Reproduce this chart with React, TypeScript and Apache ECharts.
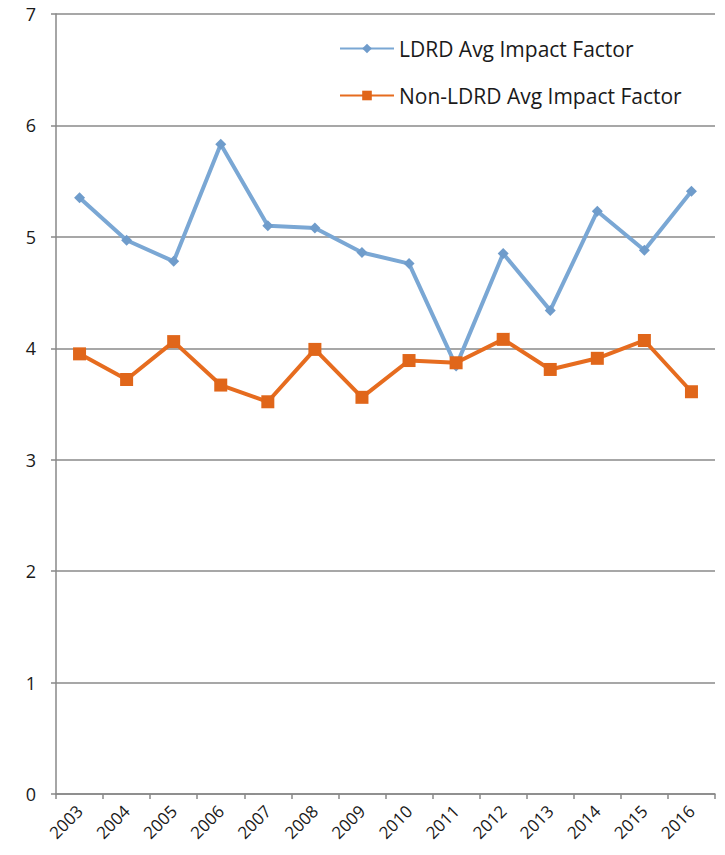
import React, { useEffect, useRef } from "react";
import * as echarts from "echarts";

const years = ["2003","2004","2005","2006","2007","2008","2009","2010","2011","2012","2013","2014","2015","2016"];
const ldrd = [5.35, 4.97, 4.78, 5.83, 5.10, 5.08, 4.86, 4.76, 3.84, 4.85, 4.34, 5.23, 4.88, 5.41];
const nonLdrd = [3.95, 3.72, 4.06, 3.67, 3.52, 3.99, 3.56, 3.89, 3.87, 4.08, 3.81, 3.91, 4.07, 3.61];
const yTicks = [0, 1, 2, 3, 4, 5, 6, 7];

const FONT = "Open Sans";

export default function App() {
  const ref = useRef<HTMLDivElement>(null);
  useEffect(() => {
    if (!ref.current) return;
    const chart = echarts.init(ref.current, undefined, { renderer: "svg" });
    chart.setOption({
      animation: false,
      backgroundColor: "#ffffff",
      textStyle: { fontFamily: FONT },
      grid: { left: 56, right: 10, top: 14, bottom: 61, containLabel: false },
      legend: {
        orient: "vertical",
        left: 334,
        top: 33,
        itemWidth: 54,
        itemHeight: 12,
        itemGap: 26,
        textStyle: { fontFamily: FONT, fontSize: 21, color: "#1a1a1a" },
        data: ["LDRD Avg Impact Factor", "Non-LDRD Avg Impact Factor"],
      },
      xAxis: {
        type: "category",
        data: years,
        boundaryGap: true,
        axisLine: { show: true, lineStyle: { color: "#888888", width: 1.5 } },
        axisTick: { show: true, alignWithLabel: false, length: 5, lineStyle: { color: "#888888", width: 1.5 } },
        axisLabel: { rotate: 45, fontFamily: FONT, fontSize: 17, color: "#1a1a1a", margin: 14, interval: 0 },
        splitLine: { show: false },
      },
      yAxis: {
        type: "value",
        min: yTicks[0],
        max: yTicks[yTicks.length - 1],
        interval: 1,
        axisLine: { show: true, lineStyle: { color: "#888888", width: 1.5 } },
        axisTick: { show: true, inside: false, length: 5, lineStyle: { color: "#888888", width: 1.5 } },
        axisLabel: { fontFamily: FONT, fontSize: 18, color: "#1a1a1a", margin: 20 },
        splitLine: { show: true, lineStyle: { color: "#8a8a8a", width: 1.5 } },
      },
      series: [
        {
          name: "LDRD Avg Impact Factor",
          type: "line",
          data: ldrd,
          symbol: "diamond",
          symbolSize: 11,
          lineStyle: { color: "#7aa7d4", width: 4 },
          itemStyle: { color: "#6f9ccb" },
          z: 3,
        },
        {
          name: "Non-LDRD Avg Impact Factor",
          type: "line",
          data: nonLdrd,
          symbol: "rect",
          symbolSize: 13,
          lineStyle: { color: "#e66c1f", width: 4 },
          itemStyle: { color: "#e0661a" },
          z: 4,
        },
      ],
    });
    return () => chart.dispose();
  }, []);
  return <div ref={ref} style={{ position: "fixed", left: 0, top: 0, width: 725, height: 855 }} />;
}
